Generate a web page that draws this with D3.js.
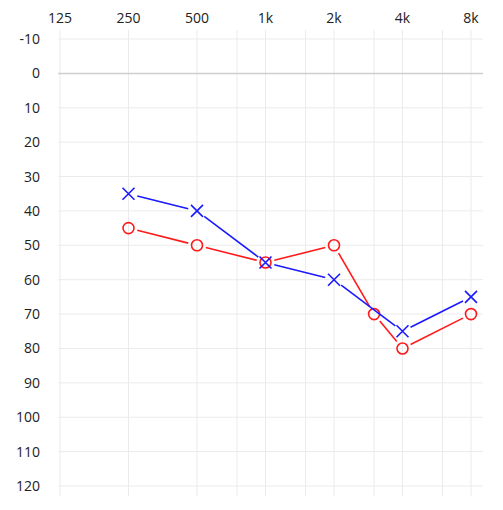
<!DOCTYPE html><html><head><meta charset="utf-8"><script src="https://cdn.jsdelivr.net/npm/d3@7"></script>
<style>body{margin:0;background:#fff}text{font-family:"Open Sans","Noto Sans",sans-serif;font-size:14px;fill:#222}</style></head><body><svg id="c" width="503" height="510"></svg><script>
const freqTicks=[125,250,500,1000,2000,4000,8000];
const tickLabels=["125","250","500","1k","2k","4k","8k"];
const minorFreqs=[750,1500,3000,6000];
const dbTicks=[-10,0,10,20,30,40,50,60,70,80,90,100,110,120];
const rightFreqs=[250,500,1000,2000,3000,4000,8000];
const rightDb=[45,50,55,50,70,80,70];
const leftFreqs=[250,500,1000,2000,4000,8000];
const leftDb=[35,40,55,60,75,65];
const svg=d3.select("#c");
const x=d3.scaleLog().base(2).domain([125,8000]).range([60,471]);
const y=d3.scaleLinear().domain([-10,120]).range([39,486]);
const L=58,R=483,T=30,B=496;
const g=svg.append("g");
freqTicks.concat(minorFreqs).forEach(f=>g.append("line").attr("x1",x(f)).attr("x2",x(f)).attr("y1",T).attr("y2",B).attr("stroke","#ebebeb"));
dbTicks.forEach(d=>g.append("line").attr("x1",L).attr("x2",R).attr("y1",y(d)).attr("y2",y(d)).attr("stroke",d===0?"#cfcfcf":"#ebebeb").attr("stroke-width",d===0?1.5:1));
freqTicks.forEach((f,i)=>svg.append("text").attr("x",x(f)).attr("y",23).attr("text-anchor","middle").text(tickLabels[i]));
dbTicks.forEach(d=>svg.append("text").attr("x",40).attr("y",y(d)+5).attr("text-anchor","end").text(d));
function series(fs,ds,color,marker){
  const pts=fs.map((f,i)=>[x(f),y(ds[i])]);
  const gap=9;
  for(let i=0;i<pts.length-1;i++){
    const [x1,y1]=pts[i],[x2,y2]=pts[i+1];const dx=x2-x1,dy=y2-y1,l=Math.hypot(dx,dy);
    svg.append("line").attr("x1",x1+dx/l*gap).attr("y1",y1+dy/l*gap).attr("x2",x2-dx/l*gap).attr("y2",y2-dy/l*gap).attr("stroke",color).attr("stroke-width",1.6);
  }
  pts.forEach(([px,py])=>{
    if(marker==="o")svg.append("circle").attr("cx",px).attr("cy",py).attr("r",5.5).attr("fill","none").attr("stroke",color).attr("stroke-width",1.6);
    else{const s=6;svg.append("path").attr("d",`M${px-s},${py-s}L${px+s},${py+s}M${px-s},${py+s}L${px+s},${py-s}`).attr("stroke",color).attr("stroke-width",1.6);}
  });
}
series(rightFreqs,rightDb,"#ff1a1a","o");
series(leftFreqs,leftDb,"#1a1aff","x");
</script></body></html>
